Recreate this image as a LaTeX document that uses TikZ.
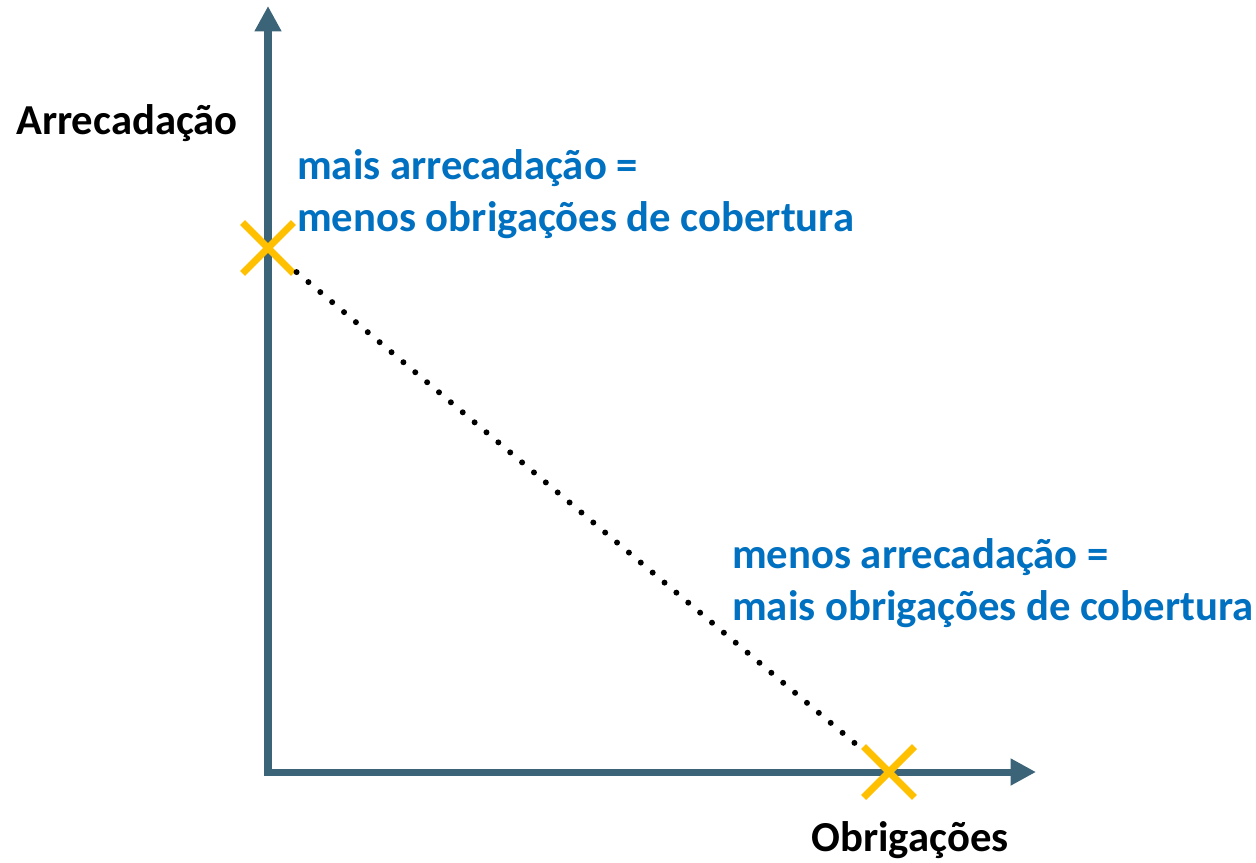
\documentclass[tikz,border=0pt]{standalone}
\usepackage{fontspec}
\setmainfont{Carlito}
\usetikzlibrary{arrows.meta,shapes.misc}

\definecolor{axiscol}{HTML}{3C6478}
\definecolor{notecol}{HTML}{0070C0}
\definecolor{markcol}{HTML}{FFC000}

\tikzset{
    axis/.style={draw=axiscol, line width=4pt, -{Triangle[length=14.5pt, width=14.5pt]}},
    xmark/.style={cross out, draw=markcol, line width=4pt, inner sep=0pt, minimum size=25pt},
    note/.style={anchor=west, align=left, text=notecol, font=\fontsize{24.3}{29.3}\selectfont\bfseries},
    title/.style={font=\fontsize{24.3}{29.3}\selectfont\bfseries},
}

\begin{document}
\begin{tikzpicture}[x=0.02cm, y=-0.02cm]
    \useasboundingbox[fill=white] (0,0) rectangle (1256,862);

    %% axes
    \coordinate (o) at (268,772);
    \coordinate (ytip) at (268,6);
    \coordinate (xtip) at (1036,772);
    \draw[axis] ([yshift=-2pt]o) -- (ytip);
    \draw[axis] ([xshift=-2pt]o) -- (xtip);

    \node[title] (ylab) at (127,123) {Arrecadação};
    \node[title] (xlab) at (910,840) {Obrigações};

    %% end points
    \node[xmark] (hi) at (268,248) {};
    \node[xmark] (lo) at (889,772) {};

    \draw[black, line width=3.4pt, line cap=round, dash pattern=on 0pt off 8.84pt,
          shorten <=2.3pt, shorten >=2.3pt] (hi) -- (lo);

    \node[note] (hinote) at (291,194) {mais arrecadação =\\menos obrigações de cobertura};
    \node[note] (lonote) at (726,583) {menos arrecadação =\\mais obrigações de cobertura};
\end{tikzpicture}
\end{document}
